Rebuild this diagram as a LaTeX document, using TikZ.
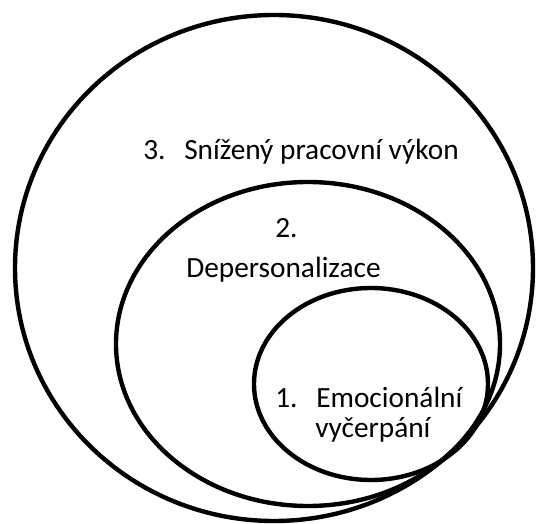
\documentclass[tikz,border=0pt]{standalone}
\usepackage{fontspec}
\setmainfont{Carlito}
\begin{document}
\begin{tikzpicture}[x=0.75pt,y=-0.75pt,font=\fontsize{22}{26}\selectfont,
        ring/.style={draw,line width=3.3pt},
        lbl/.style={anchor=base west,inner sep=0pt}]
        \useasboundingbox (0,0) rectangle (536,524);
        \path[ring] (274,268) ellipse [x radius=259,y radius=253];
        \path[ring] (308,344) ellipse [x radius=192,y radius=162];
        \path[ring] (371,384) ellipse [x radius=117,y radius=96];

        \node[lbl] (num3) at (143,160) {3.};
        \node[lbl] (txt3) at (184,160) {Snížený pracovní výkon};
        \node[lbl] (num2) at (275,238) {2.};
        \node[lbl] (txt2) at (186,278) {Depersonalizace};
        \node[lbl] (num1) at (275,407) {1.};
        \node[lbl] (txt1a) at (316,407) {Emocionální};
        \node[lbl] (txt1b) at (315,437) {vyčerpání};
    \end{tikzpicture}
\end{document}
